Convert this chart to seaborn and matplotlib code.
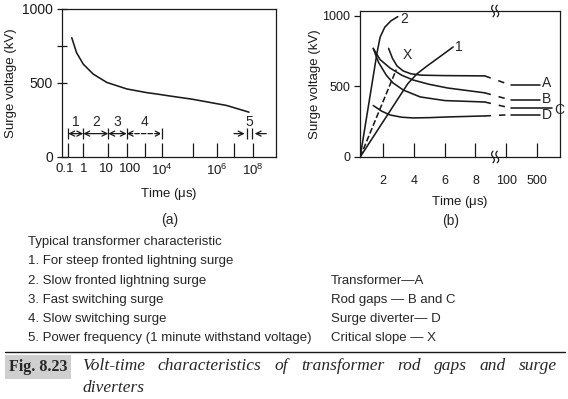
import numpy as np
import pandas as pd
import matplotlib
matplotlib.use("Agg")
import matplotlib.pyplot as plt
from matplotlib.lines import Line2D
import matplotlib.transforms as mtransforms
import seaborn as sns

# ---------------- data: panel (a) transformer volt-time characteristic ----------------
a_time = [0.17, 0.355, 1.0, 2.5, 8.7, 100, 1260, 6300, 18600, 1.0e5, 3.8e6, 6.3e7]
a_voltage = [806, 705, 627, 560, 504, 460, 435, 424, 412, 390, 348, 303]
a_xticks = [0.1, 1, 10, 100, 1e3, 1e4, 1e5, 1e6, 1e7, 1e8]
a_xticklabels = ["0.1", "1", "10", "100", "", "$10^4$", "", "$10^6$", "", "$10^8$"]
a_yticks = [0, 500, 750, 1000]
a_yticklabels = ["0", "500", "", "1000"]
range_labels = ["1", "2", "3", "4"]
range_start = [0.1, 1, 10, 100]
range_end = [1, 10, 100, 1e4]
range5_bars = [5.2e7, 9.1e7]
range5_from = [1.0e7, 6.3e8]

# ---------------- data: panel (b) (broken time axis positions) ----------------
b_xticks = [2, 4, 6, 8, 10, 12]
b_xticklabels = ["2", "4", "6", "8", "100", "500"]
b_yticks = [0, 500, 1000]
line2_t = [0.5, 1.6, 1.8, 2.1, 2.5, 2.95]
line2_v = [0, 740, 850, 920, 965, 995]
line1_t = [0.5, 3.6, 4.2, 4.85, 5.7, 6.55]
line1_v = [0, 520, 590, 645, 712, 780]
lineX_t = [0.5, 2.85]
lineX_v = [0, 620]
curveA_t = [2.35, 2.6, 2.9, 3.3, 3.8, 4.5, 6.0, 8.6]
curveA_v = [770, 700, 645, 610, 590, 580, 577, 575]
curveB_t = [1.35, 1.8, 2.44, 3.2, 3.94, 5.0, 6.2, 8.6]
curveB_v = [770, 690, 631, 580, 546, 515, 489, 455]
curveC_t = [1.35, 1.7, 2.2, 2.64, 3.3, 4.4, 6.0, 8.6]
curveC_v = [770, 670, 580, 525, 475, 426, 400, 390]
curveD_t = [1.35, 1.9, 2.44, 3.2, 3.94, 5.0, 6.2, 8.6]
curveD_v = [365, 325, 298, 282, 277, 279, 284, 291]
right_names = ["A", "B", "C", "D"]
right_levels = [510, 404, 347, 300]
right_start = [10.3, 10.3, 10.3, 10.3]
right_end = [12.2, 12.2, 13.0, 12.2]
BREAK_U = 9.28

legend_left = ["Typical transformer characteristic",
               "1. For steep fronted lightning surge",
               "2. Slow fronted lightning surge",
               "3. Fast switching surge",
               "4. Slow switching surge",
               "5. Power frequency (1 minute withstand voltage)"]
legend_right = ["Transformer\u2014A", "Rod gaps \u2014 B and C",
                "Surge diverter\u2014 D", "Critical slope \u2014 X"]
caption1 = "Volt-time characteristics of transformer rod gaps and surge"
caption2 = "diverters"

# ---------------- style ----------------
sns.set_theme(style="ticks")
plt.rcParams["font.family"] = ["Liberation Sans", "DejaVu Sans"]
plt.rcParams["mathtext.default"] = "regular"
plt.rcParams["axes.linewidth"] = 0.9

W, H = 568, 399
fig = plt.figure(figsize=(W / 100, H / 100), dpi=100)
fig.patch.set_facecolor("white")


def fx(x):
    return x / W


def fy(y):
    return 1 - y / H


axA = fig.add_axes([fx(62), fy(157), (276 - 62) / W, (157 - 9) / H])
axB = fig.add_axes([fx(360), fy(157), (560 - 360) / W, (157 - 11) / H])

# hand-drawn (non-uniform) log axis of panel (a)
SCALE_LOG = np.array([-40, -1, 0, 1, 2, 3, 4, 5, 6, 7, 8, 40], float)
SCALE_POS = np.array([68.3 - 39 * 15, 68.3, 83.3, 108.3, 126.7, 145, 161.7,
                      192.7, 216.7, 234, 252.7, 252.7 + 32 * 17])


def fwd(t):
    t = np.asarray(t, float)
    lg = np.log10(np.clip(t, 1e-40, None))
    return np.interp(lg, SCALE_LOG, SCALE_POS)


def inv(p):
    return 10 ** np.interp(np.asarray(p, float), SCALE_POS, SCALE_LOG)


axA.set_xscale("function", functions=(fwd, inv))
LW = 1.15
dfA = pd.DataFrame({"t": a_time, "v": a_voltage})
sns.lineplot(data=dfA, x="t", y="v", ax=axA, color="k", lw=LW,
             estimator=None, sort=False)
axA.set_xlim(float(inv(62)), float(inv(276)))
axA.set_ylim(0, 1000)

# ranges 1-4
for lab, s, e in zip(range_labels, range_start, range_end):
    ls = "--" if lab == "4" else "-"
    axA.annotate("", xy=(e, 158), xytext=(s, 158),
                 arrowprops=dict(arrowstyle="<->", lw=0.9, color="k", ls=ls,
                                 shrinkA=0, shrinkB=0, mutation_scale=9))
    axA.text(np.sqrt(s * e), 236, lab, ha="center", va="center", fontsize=10)
axA.vlines(sorted(set(range_start + range_end)), 122, 195, color="k", lw=0.9)
# range 5
axA.vlines(range5_bars, 122, 195, color="k", lw=0.9)
for b, f in zip(range5_bars, range5_from):
    axA.annotate("", xy=(b, 158), xytext=(f, 158),
                 arrowprops=dict(arrowstyle="->", lw=0.9, color="k",
                                 shrinkA=0, shrinkB=2, mutation_scale=9))
axA.text(np.sqrt(range5_bars[0] * range5_bars[1]), 236, "5",
         ha="center", va="center", fontsize=10)

axA.xaxis.set_major_locator(matplotlib.ticker.FixedLocator(a_xticks))
axA.xaxis.set_minor_locator(matplotlib.ticker.NullLocator())
axA.set_xticklabels(a_xticklabels)
axA.set_yticks(a_yticks)
axA.set_yticklabels(a_yticklabels)
axA.tick_params(axis="x", direction="in", length=10, width=0.9, pad=4,
                labelsize=9.5, colors="k")
axA.tick_params(axis="y", direction="inout", length=7, width=0.9, pad=3,
                labelsize=10, colors="k")
# small nudges like the hand-lettered original
label_shift = {"0.1": -4, "10": -2, "100": 3}
for lbl in axA.get_xticklabels():
    dx = label_shift.get(lbl.get_text(), 0)
    if dx:
        lbl.set_transform(lbl.get_transform() +
                          mtransforms.ScaledTranslation(dx / 100, 0, fig.dpi_scale_trans))
axA.set_xlabel("Time ($\\mu$s)", fontsize=9.5, labelpad=6, color="k")
axA.set_ylabel("Surge voltage (kV)", fontsize=9.5, labelpad=4, color="k")

# ---------------- panel (b) ----------------
curves = [(line2_t, line2_v, "-"), (line1_t, line1_v, "-"), (lineX_t, lineX_v, "--"),
          (curveA_t, curveA_v, "-"), (curveB_t, curveB_v, "-"),
          (curveC_t, curveC_v, "-"), (curveD_t, curveD_v, "-")]
for t, v, ls in curves:
    sns.lineplot(x=t, y=v, ax=axB, color="k", lw=LW, linestyle=ls,
                 estimator=None, sort=False)

left_ends = [(curveA_t[-1], curveA_v[-1]), (curveB_t[-1], curveB_v[-1]),
             (curveC_t[-1], curveC_v[-1]), (curveD_t[-1], curveD_v[-1])]
for name, lvl, s, e, (lt, lv) in zip(right_names, right_levels, right_start,
                                     right_end, left_ends):
    sns.lineplot(x=[lt, s], y=[lv, lvl], ax=axB, color="k", lw=LW,
                 linestyle=(0, (4, 5)), estimator=None, sort=False)
    sns.lineplot(x=[s, e], y=[lvl, lvl], ax=axB, color="k", lw=LW,
                 estimator=None, sort=False)
    dy = -14 if name == "C" else 12 if name == "A" else 10 if name == "B" else -2
    axB.text(e + 0.12, lvl + dy, name, ha="left", va="center", fontsize=10)

axB.text(line2_t[-1] + 0.15, line2_v[-1] - 20, "2", ha="left", va="center", fontsize=10)
axB.text(line1_t[-1] + 0.1, line1_v[-1], "1", ha="left", va="center", fontsize=10)
axB.text(lineX_t[-1] + 0.4, 722, "X", ha="left", va="center", fontsize=10)

axB.set_xlim(0.49, 13.5)
axB.set_ylim(0, 1035)
axB.set_xticks(b_xticks)
axB.set_xticklabels(b_xticklabels)
axB.set_yticks(b_yticks)
axB.tick_params(axis="x", direction="in", length=10, width=0.9, pad=13,
                labelsize=9, colors="k")
axB.tick_params(axis="y", direction="out", length=4, width=0.9, pad=3,
                labelsize=9, colors="k")
axB.set_xlabel("Time ($\\mu$s)", fontsize=9.5, labelpad=5, color="k")
axB.set_ylabel("Surge voltage (kV)", fontsize=9.5, labelpad=1, color="k")

# axis-break marks
trans = mtransforms.blended_transform_factory(axB.transData, axB.transAxes)
yy = np.linspace(-0.04, 0.04, 30)
for y0 in (0.0, 1.0):
    for dx in (-0.14, 0.14):
        xx = BREAK_U + dx + 0.09 * np.sin(2 * np.pi * (yy + 0.04) / 0.08)
        axB.plot(xx, yy + y0, color="k", lw=0.9, transform=trans, clip_on=False)

for ax in (axA, axB):
    for sp in ax.spines.values():
        sp.set_visible(True)
        sp.set_color("k")
        sp.set_linewidth(0.9)

# ---------------- texts below ----------------
fig.text(fx(170), fy(220), "(a)", ha="center", va="center", fontsize=10)
fig.text(fx(451), fy(221), "(b)", ha="center", va="center", fontsize=10)
left_y = [242, 261, 281, 300, 319, 338]
for y, s in zip(left_y, legend_left):
    fig.text(fx(28), fy(y), s, ha="left", va="center", fontsize=9.5)
for y, s in zip(left_y[2:], legend_right):
    fig.text(fx(331), fy(y), s, ha="left", va="center", fontsize=9.5)

fig.add_artist(Line2D([fx(5), fx(565)], [fy(352), fy(352)], color="k", lw=1.0))
fig.text(fx(9), fy(367), "Fig. 8.23", ha="left", va="center", fontsize=11.5,
         family="Liberation Serif", weight="bold",
         bbox=dict(facecolor="#cfcfcf", edgecolor="none", pad=2.5))

serif = dict(family="Liberation Serif", style="italic", fontsize=12.5,
             va="center", ha="left")
words = caption1.split()
texts = [fig.text(0, fy(366), w, **serif) for w in words]
fig.canvas.draw()
r = fig.canvas.get_renderer()
widths = [t.get_window_extent(r).width for t in texts]
gap = (557 - 82 - sum(widths)) / (len(words) - 1)
xcur = 82
for t, w in zip(texts, widths):
    t.set_x(fx(xcur))
    xcur += w + gap
fig.text(fx(82), fy(388), caption2, **serif)

fig.savefig("out.png", dpi=100, facecolor="white")
